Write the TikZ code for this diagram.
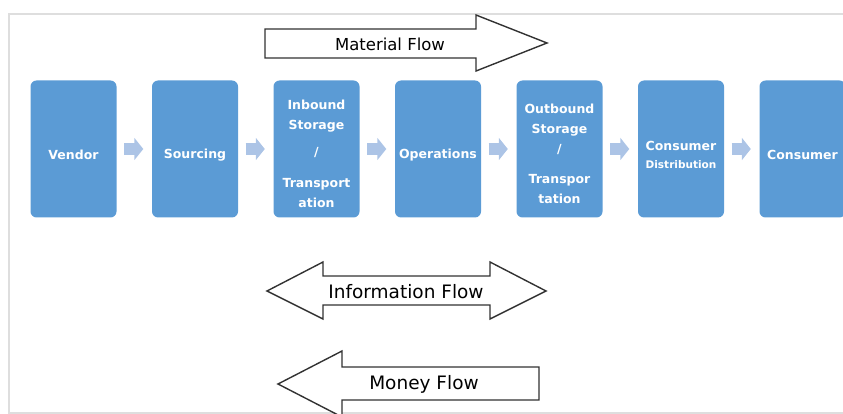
\documentclass[tikz,border=0pt]{standalone}
\usepackage{fontspec}
\setmainfont{DejaVu Sans}
\usetikzlibrary{arrows.meta}
\definecolor{boxblue}{RGB}{91,155,213}
\definecolor{linkblue}{RGB}{172,196,230}
\definecolor{framegray}{RGB}{222,222,222}
\definecolor{flowline}{RGB}{50,50,50}
\begin{document}
\begin{tikzpicture}[x=1pt,y=-1pt,node distance=121.5pt,
  stage/.style={rectangle,rounded corners=6pt,fill=boxblue,text=white,minimum width=86pt,minimum height=137pt,inner sep=2pt,align=center,font=\fontsize{12.5}{20}\selectfont\bfseries},
  low/.style={execute at begin node=\rule{0pt}{21pt}},
  link/.style={color=linkblue,line width=12pt,-{Triangle[width=22pt,length=9pt]},shorten <=7.5pt,shorten >=8.5pt},
  flow/.style={draw=flowline,line width=1.4pt,fill=white,line join=miter},
  flow text/.style={font=\fontsize{18.5}{20}\selectfont}]
  \useasboundingbox (0,0) rectangle (843,414);
  \draw[framegray,line width=1.5pt] (9,14) rectangle (850,413);

  \node[stage,low] (vendor) at (73.5,149) {Vendor};
  \node[stage,low] (sourcing) [right of=vendor] {Sourcing};
  \node[stage] (inbound) [right of=sourcing] {\mbox{}\\[-0.5pt]Inbound\\Storage\\[7pt]/\\[11pt]Transport\\ation};
  \node[stage,low] (operations) [right of=inbound] {Operations};
  \node[stage] (outbound) [right of=operations] {\mbox{}\\[-1.5pt]Outbound\\Storage\\/\\[10pt]Transpor\\tation};
  \node[stage] (distribution) [right of=outbound] {\mbox{}\\[1.5pt]Consumer\\[-2pt]{\fontsize{10.5}{12}\selectfont Distribution}};
  \node[stage,low] (consumer) [right of=distribution] {Consumer};

  \path[link]
    (vendor) edge (sourcing)
    (sourcing) edge (inbound)
    (inbound) edge (operations)
    (operations) edge (outbound)
    (outbound) edge (distribution)
    (distribution) edge (consumer);

  % material goes forward, money goes back, information both ways
  \draw[flow] (265,29) -- (476,29) -- (476,15) -- (547,43) -- (476,71) -- (476,58) -- (265,58) -- cycle;
  \node[flow text,font=\fontsize{16.5}{18}\selectfont] (material) at (390,44) {Material Flow};
  \draw[flow] (267,291) -- (323,262) -- (323,276) -- (490,276) -- (490,262) -- (546,291) -- (490,319) -- (490,305) -- (323,305) -- (323,319) -- cycle;
  \node[flow text] (information) at (406,292) {Information Flow};
  \draw[flow] (278,384) -- (342,351) -- (342,367) -- (539,367) -- (539,400) -- (342,400) -- (342,417) -- cycle;
  \node[flow text] (money) at (424,384) {Money Flow};
\end{tikzpicture}
\end{document}
